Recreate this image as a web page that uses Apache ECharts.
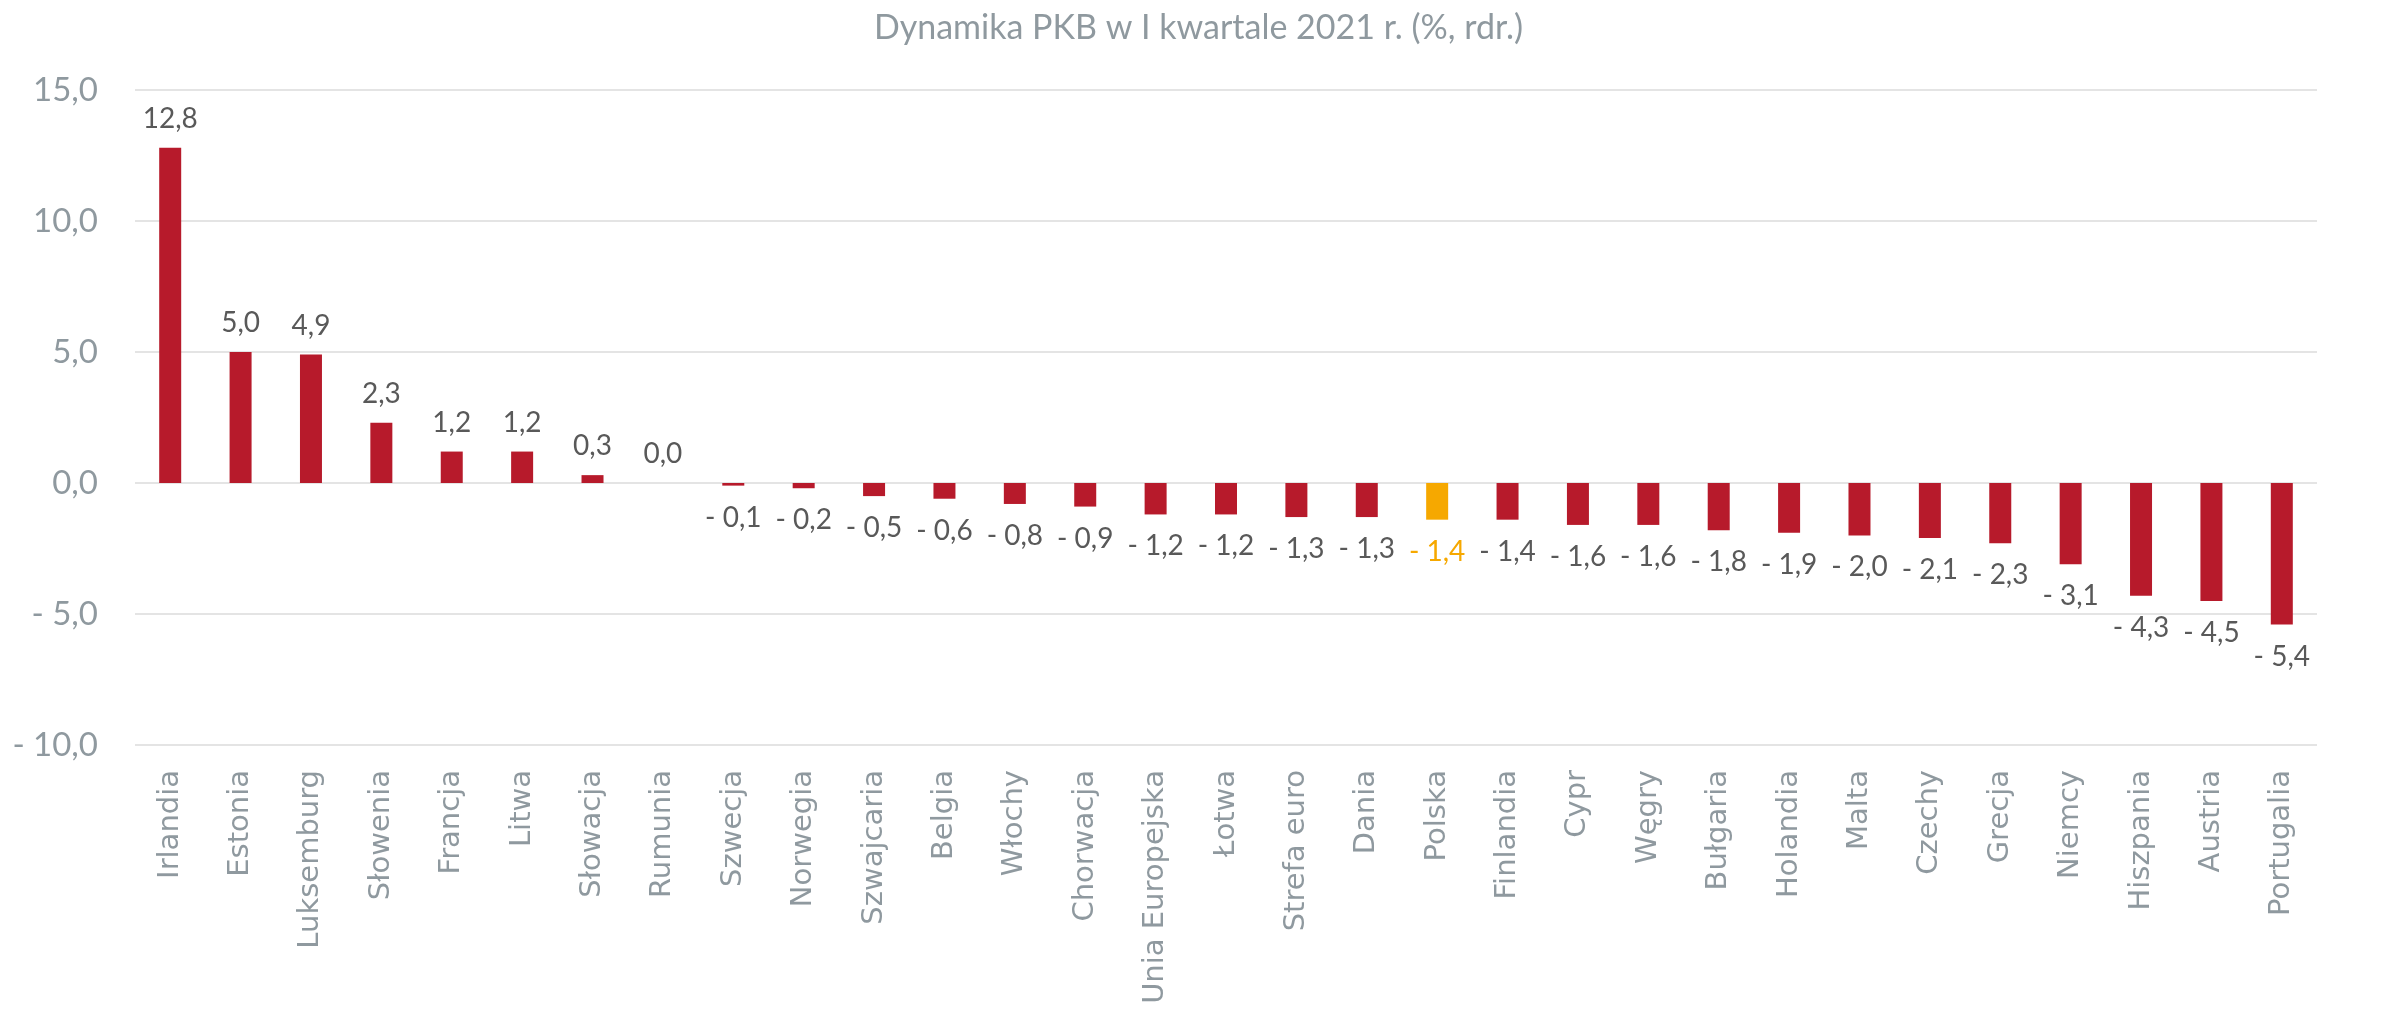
<!DOCTYPE html>
<html>
<head>
<meta charset="utf-8">
<script src="https://cdn.jsdelivr.net/npm/echarts@6/dist/echarts.min.js"></script>
<style>
  html, body { margin: 0; padding: 0; background: #fff; }
  #chart { width: 2397px; height: 1013px; }
</style>
</head>
<body>
<div id="chart"></div>
<script>
// dane z wykresu
var countries = ['Irlandia', 'Estonia', 'Luksemburg', 'Słowenia', 'Francja', 'Litwa', 'Słowacja', 'Rumunia',
  'Szwecja', 'Norwegia', 'Szwajcaria', 'Belgia', 'Włochy', 'Chorwacja', 'Unia Europejska', 'Łotwa',
  'Strefa euro', 'Dania', 'Polska', 'Finlandia', 'Cypr', 'Węgry', 'Bułgaria', 'Holandia', 'Malta',
  'Czechy', 'Grecja', 'Niemcy', 'Hiszpania', 'Austria', 'Portugalia'];
var gdpChange = [12.8, 5.0, 4.9, 2.3, 1.2, 1.2, 0.3, 0.0,
  -0.1, -0.2, -0.5, -0.6, -0.8, -0.9, -1.2, -1.2,
  -1.3, -1.3, -1.4, -1.4, -1.6, -1.6, -1.8, -1.9, -2.0,
  -2.1, -2.3, -3.1, -4.3, -4.5, -5.4];
var highlight = 'Polska';
var yTicks = [-10, -5, 0, 5, 10, 15];

var RED = '#b71a2b';
var ORANGE = '#f6a800';

function fmt(v) {
  var s = Math.abs(v).toFixed(1).replace('.', ',');
  return v < 0 ? '- ' + s : s;
}

var chart = echarts.init(document.getElementById('chart'));

var barData = gdpChange.map(function (v, i) {
  var isHl = countries[i] === highlight;
  return {
    value: v,
    itemStyle: { color: isHl ? ORANGE : RED },
    label: {
      position: v < 0 ? 'bottom' : 'top',
      distance: v < 0 ? 18 : 15,
      color: isHl ? ORANGE : '#595959'
    }
  };
});

chart.setOption({
  animation: false,
  title: {
    text: 'Dynamika PKB w I kwartale 2021 r. (%, rdr.)',
    left: 'center',
    top: 6,
    textStyle: { fontFamily: 'Lato', fontSize: 34, fontWeight: 'normal', color: '#8f999f' }
  },
  grid: { left: 135, right: 80, top: 90, bottom: 268 },
  xAxis: {
    type: 'category',
    data: countries,
    axisLine: { show: false, onZero: false },
    axisTick: { show: false },
    axisLabel: {
      rotate: 90,
      interval: 0,
      margin: 25,
      fontFamily: 'DejaVu Sans',
      fontSize: 29,
      color: '#8f999f'
    }
  },
  yAxis: {
    type: 'value',
    min: yTicks[0],
    max: yTicks[yTicks.length - 1],
    interval: 5,
    axisLine: { show: false },
    axisTick: { show: false },
    splitLine: { lineStyle: { color: '#e4e4e4', width: 2 } },
    axisLabel: {
      margin: 37,
      fontFamily: 'Lato',
      fontSize: 33,
      color: '#8f999f',
      formatter: fmt
    }
  },
  series: [{
    type: 'bar',
    data: barData,
    barWidth: 22,
    label: {
      show: true,
      fontFamily: 'Lato',
      fontSize: 28,
      formatter: function (p) { return fmt(p.value); }
    }
  }]
});
</script>
</body>
</html>
